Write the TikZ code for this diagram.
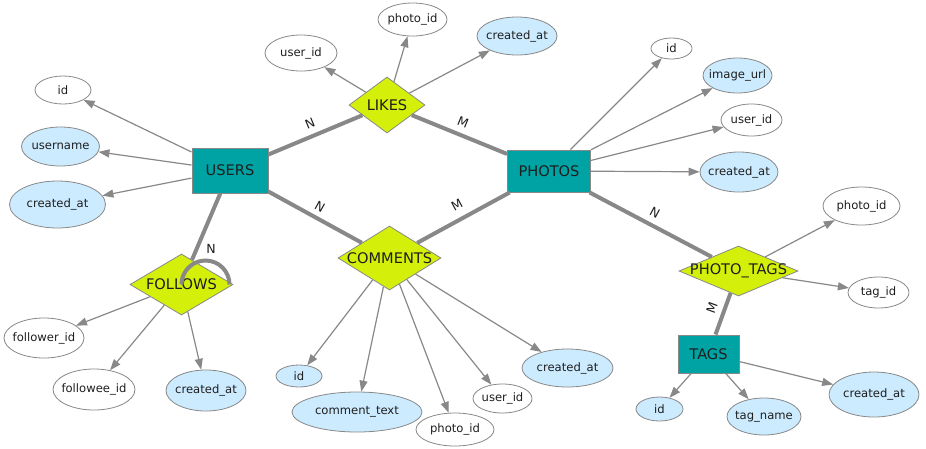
\documentclass[tikz,border=0pt]{standalone}
\usepackage{fontspec}
\setmainfont{DejaVu Sans}
\usetikzlibrary{shapes.geometric,arrows.meta}
% zero-width centred box, so that the label never enlarges its shape
\newcommand{\cbox}[1]{\makebox[0pt]{#1}}
\definecolor{edgegray}{HTML}{888888}
\definecolor{entfill}{HTML}{00A3A3}
\definecolor{relfill}{HTML}{D4F00A}
\definecolor{keyfill}{HTML}{CCEBFF}
\definecolor{ink}{HTML}{1E1E1E}
\begin{document}
\begin{tikzpicture}[x=1pt,y=-1pt,
  entity/.style={rectangle, draw=edgegray, fill=entfill, line width=1pt, inner sep=0pt,
    text=ink, font=\fontsize{14.6}{16}\selectfont},
  rel/.style={diamond, draw=edgegray, fill=relfill, line width=0.8pt, inner sep=0pt,
    text=ink, font=\fontsize{14.6}{16}\selectfont},
  attr/.style={ellipse, draw=edgegray, fill=white, line width=0.8pt, inner sep=0pt,
    text=ink, font=\fontsize{11.6}{13}\selectfont},
  keyattr/.style={attr, fill=keyfill},
  link/.style={draw=edgegray, line width=4pt},
  prop/.style={draw=edgegray, line width=1.2pt, -{Triangle[length=11pt,width=8pt]}},
  card/.style={text=ink, font=\fontsize{12.5}{14}\selectfont, inner sep=0pt},
]
\useasboundingbox (0,0) rectangle (926,448);

% entities
\node[entity, minimum width=76pt, minimum height=45pt] (users) at (230,170.5) {\cbox{USERS}};
\node[entity, minimum width=83pt, minimum height=42pt] (photos) at (549,171) {\cbox{PHOTOS}};
\node[entity, minimum width=61pt, minimum height=38pt] (tags) at (708.5,354) {\cbox{TAGS}};

% relationships
\node[rel, minimum width=76pt, minimum height=56pt] (likes) at (387,105) {\cbox{LIKES}};
\node[rel, minimum width=103pt, minimum height=64pt] (comments) at (389.5,258) {\cbox{COMMENTS}};
\node[rel, minimum width=103pt, minimum height=61pt] (follows) at (181.5,284.5) {\cbox{FOLLOWS}};
\node[rel, minimum width=119pt, minimum height=50pt] (phototags) at (738.5,271) {\cbox{PHOTO\_TAGS}};

% attributes of USERS
\node[attr, minimum width=56pt, minimum height=28pt] (u_id) at (63,90) {\cbox{id}};
\node[keyattr, minimum width=78pt, minimum height=39pt] (u_name) at (60.5,146.5) {\cbox{username}};
\node[keyattr, minimum width=96pt, minimum height=47pt] (u_created) at (57.5,204.5) {\cbox{created\_at}};

% attributes of LIKES
\node[attr, minimum width=72pt, minimum height=36pt] (l_user) at (301,53) {\cbox{user\_id}};
\node[attr, minimum width=69pt, minimum height=33pt] (l_photo) at (412.5,19.5) {\cbox{photo\_id}};
\node[keyattr, minimum width=80pt, minimum height=38pt] (l_created) at (517,36) {\cbox{created\_at}};

% attributes of PHOTOS
\node[attr, minimum width=41pt, minimum height=21pt] (p_id) at (671.5,48.5) {\cbox{id}};
\node[keyattr, minimum width=69pt, minimum height=35pt] (p_url) at (737.5,75.5) {\cbox{image\_url}};
\node[attr, minimum width=61pt, minimum height=32pt] (p_user) at (751.5,120) {\cbox{user\_id}};
\node[keyattr, minimum width=78pt, minimum height=40pt] (p_created) at (739,172) {\cbox{created\_at}};

% attributes of FOLLOWS
\node[attr, minimum width=80pt, minimum height=40pt] (f_follower) at (44,338) {\cbox{follower\_id}};
\node[attr, minimum width=82pt, minimum height=41pt] (f_followee) at (94,389.5) {\cbox{followee\_id}};
\node[keyattr, minimum width=80pt, minimum height=41pt] (f_created) at (206,390.5) {\cbox{created\_at}};

% attributes of COMMENTS
\node[keyattr, minimum width=46pt, minimum height=22pt] (c_id) at (299,376) {\cbox{id}};
\node[keyattr, minimum width=130pt, minimum height=40pt] (c_text) at (357,412) {\cbox{comment\_text}};
\node[attr, minimum width=78pt, minimum height=33pt] (c_photo) at (455,429.5) {\cbox{photo\_id}};
\node[attr, minimum width=59pt, minimum height=29pt] (c_user) at (502.5,398.5) {\cbox{user\_id}};
\node[keyattr, minimum width=91pt, minimum height=38pt] (c_created) at (567.5,368) {\cbox{created\_at}};

% attributes of PHOTO_TAGS
\node[attr, minimum width=77pt, minimum height=38pt] (pt_photo) at (861.5,206) {\cbox{photo\_id}};
\node[attr, minimum width=61pt, minimum height=31pt] (pt_tag) at (878.5,292.5) {\cbox{tag\_id}};

% attributes of TAGS
\node[keyattr, minimum width=47pt, minimum height=24pt] (t_id) at (659.5,409) {\cbox{id}};
\node[keyattr, minimum width=74pt, minimum height=37pt] (t_name) at (764,416.5) {\cbox{tag\_name}};
\node[keyattr, minimum width=90pt, minimum height=45pt] (t_created) at (874,394.5) {\cbox{created\_at}};

% relationship links
\draw[link] (users) -- (likes);
\draw[link] (likes) -- (photos);
\draw[link] (users) -- (comments);
\draw[link] (comments) -- (photos);
\draw[link] (users) -- (follows);
\draw[link] (photos) -- (phototags);
\draw[link] (phototags) -- (tags);
\draw[draw=edgegray, line width=4pt] (follows.center) arc[start angle=180, end angle=360, radius=24];

% cardinalities
\node[card, rotate=22.5] (c1) at (310,123) {N};
\node[card, rotate=-22] (c2) at (463,122) {M};
\node[card, rotate=-29] (c3) at (320,207) {N};
\node[card, rotate=28.5] (c4) at (457,205) {M};
\node[card, rotate=-28] (c5) at (655,213) {N};
\node[card, rotate=70] (c6) at (712,308) {M};
\node[card] (c7) at (211,249) {N};

% attribute arrows
\draw[prop] (users) -- (u_id);
\draw[prop] (users) -- (u_name);
\draw[prop] (users) -- (u_created);
\draw[prop] (likes) -- (l_user);
\draw[prop] (likes) -- (l_photo);
\draw[prop] (likes) -- (l_created);
\draw[prop] (photos) -- (p_id);
\draw[prop] (photos) -- (p_url);
\draw[prop] (photos) -- (p_user);
\draw[prop] (photos) -- (p_created);
\draw[prop] (follows) -- (f_follower);
\draw[prop] (follows) -- (f_followee);
\draw[prop] (follows) -- (f_created);
\draw[prop] (comments) -- (c_id);
\draw[prop] (comments) -- (c_text);
\draw[prop] (comments) -- (c_photo);
\draw[prop] (comments) -- (c_user);
\draw[prop] (comments) -- (c_created);
\draw[prop] (phototags) -- (pt_photo);
\draw[prop] (phototags) -- (pt_tag);
\draw[prop] (tags) -- (t_id);
\draw[prop] (tags) -- (t_name);
\draw[prop] (tags) -- (t_created);
\end{tikzpicture}
\end{document}
